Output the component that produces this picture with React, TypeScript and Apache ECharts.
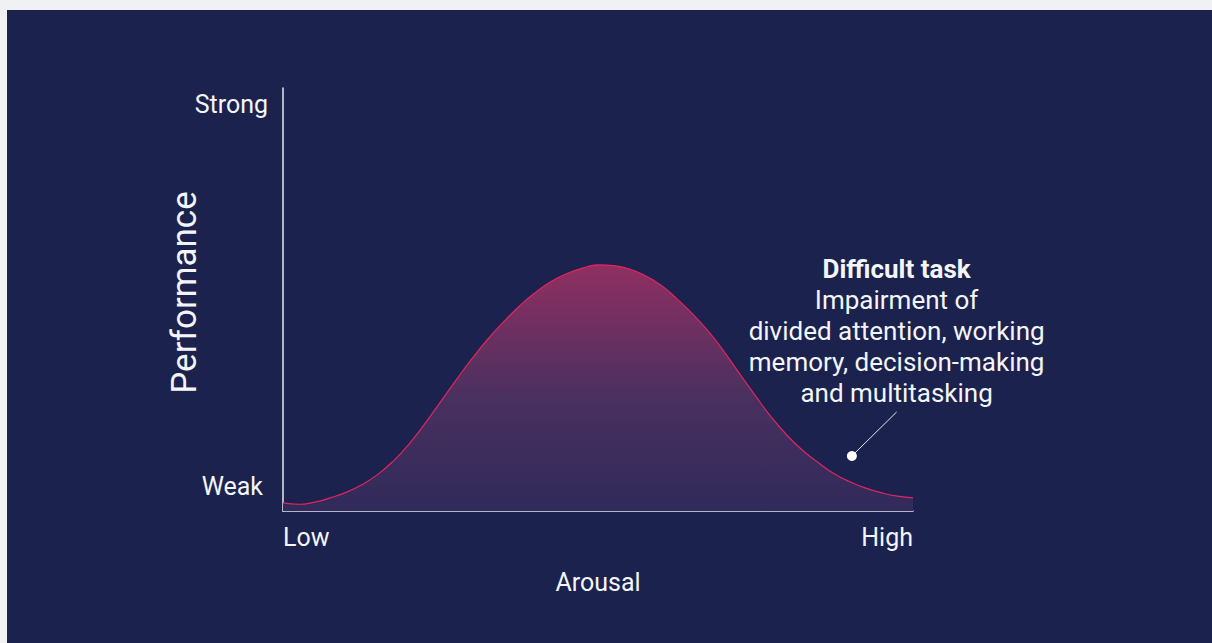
import React, { useEffect, useRef } from "react";
import * as echarts from "echarts";

// Arousal (0 = Low, 100 = High) and Performance (0 = Weak, 100 = Strong)
const arousal = [
  0, 2.5, 5, 7.5, 10, 12.5, 15, 17.5, 20, 22.5, 25, 27.5, 30, 32.5, 35, 37.5, 40, 42.5, 45, 47.5, 50,
  52.5, 55, 57.5, 60, 62.5, 65, 67.5, 70, 72.5, 75, 77.5, 80, 82.5, 85, 87.5, 90, 92.5, 95, 97.5, 100,
];
const performance = [
  1.9, 1.6, 2.1, 3.1, 4.4, 6.2, 8.6, 11.8, 15.8, 20.6, 25.8, 31.0, 36.0, 40.6, 44.7, 48.4, 51.6, 54.2, 56.1, 57.4, 58.2,
  58.0, 57.2, 55.6, 53.4, 50.2, 46.6, 42.5, 37.7, 32.4, 27.2, 22.2, 17.9, 14.3, 11.4, 8.8, 6.9, 5.4, 4.3, 3.5, 3.1,
];

const xTickLabels = ["Low", "High"];
const yTickLabels = ["Weak", "Strong"];
const xName = "Arousal";
const yName = "Performance";

const annotationTitle = "Difficult task";
const annotationLines = ["Impairment of", "divided attention, working", "memory, decision-making", "and multitasking"];
const annotationPoint = [90.3, 13.0];
const annotationLabelAnchor = [97.4, 23.4];

const FONT = "Roboto, 'Noto Sans', sans-serif";
const TEXT = "#f4f5f9";

export default function App() {
  const ref = useRef<HTMLDivElement>(null);

  useEffect(() => {
    if (!ref.current) return;
    const chart = echarts.init(ref.current, null, { renderer: "svg" });
    const curve = arousal.map((x, i) => [x, performance[i]]);
    const labelText =
      `{b|${annotationTitle}}\n` + annotationLines.map((l) => `{n|${l}}`).join("\n");

    chart.setOption({
      animation: false,
      backgroundColor: "#1b224d",
      textStyle: { fontFamily: FONT },
      grid: { left: 276, top: 78, right: 299, bottom: 132 },
      xAxis: {
        type: "value",
        min: 0,
        max: 100,
        interval: 100,
        name: xName,
        nameLocation: "middle",
        nameGap: 59,
        nameMoveOverlap: false,
        nameTextStyle: { color: TEXT, fontSize: 25, fontFamily: FONT },
        axisLine: { show: true, lineStyle: { color: "#e6e8f0", width: 1.5 } },
        axisTick: { show: false },
        splitLine: { show: false },
        axisLabel: {
          color: TEXT,
          fontSize: 25,
          fontFamily: FONT,
          margin: 14,
          alignMinLabel: "left",
          alignMaxLabel: "right",
          formatter: (v: number) => (v === 0 ? xTickLabels[0] : v === 100 ? xTickLabels[1] : ""),
        },
      },
      yAxis: {
        type: "value",
        min: 0,
        max: 100,
        interval: 100,
        name: yName,
        nameLocation: "middle",
        nameGap: 81,
        nameMoveOverlap: false,
        nameTextStyle: { color: TEXT, fontSize: 35, fontFamily: FONT, padding: [0, 0, 0, 14] },
        axisLine: { show: true, lineStyle: { color: "#e6e8f0", width: 1.5 } },
        axisTick: { show: false },
        splitLine: { show: false },
        axisLabel: {
          color: TEXT,
          fontSize: 25,
          fontFamily: FONT,
          margin: 8,
          formatter: (v: number) =>
            v === 0 ? `{w|${yTickLabels[0]}}` : v === 100 ? `{s|${yTickLabels[1]}}` : "",
          rich: {
            w: { color: TEXT, fontSize: 25, fontFamily: FONT, padding: [0, 12, 50, 0] },
            s: { color: TEXT, fontSize: 25, fontFamily: FONT, padding: [32, 7, 0, 0] },
          },
        },
      },
      series: [
        {
          type: "line",
          data: curve,
          smooth: 0.5,
          symbol: "none",
          lineStyle: { color: "#e3245f", width: 1.2 },
          areaStyle: {
            color: new echarts.graphic.LinearGradient(0, 0, 0, 1, [
              { offset: 0, color: "#902f61" },
              { offset: 0.55, color: "#48305f" },
              { offset: 1, color: "#302a5a" },
            ]),
            opacity: 1,
          },
          z: 2,
        },
        {
          type: "line",
          data: [annotationPoint, annotationLabelAnchor],
          symbol: "none",
          lineStyle: { color: "#e6e8f0", width: 1 },
          z: 3,
        },
        {
          type: "scatter",
          data: [annotationPoint],
          symbolSize: 10,
          itemStyle: { color: "#ffffff", opacity: 1 },
          z: 4,
        },
        {
          type: "scatter",
          data: [annotationLabelAnchor],
          symbolSize: 0,
          itemStyle: { opacity: 1 },
          z: 4,
          label: {
            show: true,
            position: "top",
            distance: 4,
            align: "center",
            formatter: labelText,
            rich: {
              b: { color: TEXT, fontSize: 26, fontWeight: "bold", fontFamily: FONT, lineHeight: 31, align: "center" },
              n: { color: TEXT, fontSize: 26, fontFamily: FONT, lineHeight: 31, align: "center" },
            },
          },
        },
      ],
    });
    return () => chart.dispose();
  }, []);

  return (
    <div style={{ position: "fixed", left: 0, top: 0, width: 1212, height: 643, background: "#f0f1f3" }}>
      <div ref={ref} style={{ position: "absolute", left: 7, top: 10, width: 1205, height: 633 }} />
    </div>
  );
}
